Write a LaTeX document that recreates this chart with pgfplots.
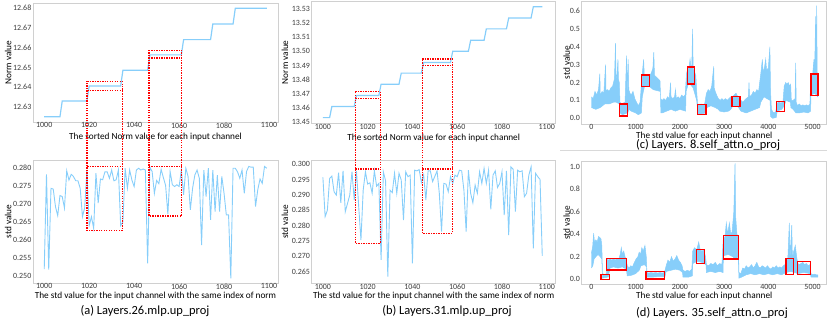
\documentclass[border=0pt]{standalone}
\usepackage{fontspec}
\setmainfont{Carlito}
\usepackage{pgfplots}
\pgfplotsset{compat=1.18}
\definecolor{sky}{RGB}{135,206,250}
\definecolor{framec}{RGB}{208,208,208}
\definecolor{rd}{RGB}{255,0,0}
\definecolor{tickc}{RGB}{60,60,60}
\pgfplotsset{
 panel/.style={
  scale only axis, anchor=north west,
  axis line style={draw=framec, line width=0.8pt},
  major tick length=0pt, tick style={draw=none},
  scaled ticks=false,
  ticklabel style={font=\fontsize{8}{9}\selectfont, color=tickc},
  xticklabel style={inner sep=0.6pt},
  yticklabel style={inner sep=1.5pt},
  label style={font=\fontsize{9.3}{11}\selectfont, color=black},
  xlabel style={at={(axis description cs:0.5,0)}, anchor=center},
  ylabel style={at={(axis description cs:0,0.5)}, anchor=center},
  /pgf/number format/assume math mode=true,
  /pgf/number format/set thousands separator={},
 },
 ser/.style={color=sky, line width=0.9pt},
 step/.style={color=sky, line width=1.2pt},
 band/.style={color=sky, fill=sky, line width=0.5pt},
}
\tikzset{
 redbox/.style={color=rd, line width=1.5pt},
 reddot/.style={color=rd, line width=1.4pt, dash pattern=on 1.4pt off 1.1pt},
}
\begin{document}
\begin{tikzpicture}
% ---------------- (a) top ----------------
\begin{axis}[panel, at={(33bp,-3bp)}, width=245bp, height=119bp,
  xmin=995, xmax=1104, ymin=12.6224, ymax=12.6825,
  xtick={1000,1020,1040,1060,1080,1100},
  ytick={12.63,12.64,12.65,12.66,12.67,12.68},
  yticklabel style={/pgf/number format/.cd,fixed,fixed zerofill,precision=2},
  xlabel={The sorted Norm value for each input channel}, ylabel={Norm value},
  xlabel style={at={(axis description cs:0.5,-0.1235)}},
  ylabel style={at={(axis description cs:-0.1008,0.5)}}]
\addplot[step] coordinates {(1000,12.6251)(1007,12.6251)(1008,12.6330)(1019,12.6330)(1020,12.6406)(1034,12.6406)(1035,12.6485)(1046,12.6485)(1047,12.6563)(1061,12.6563)(1062,12.6640)(1074,12.6640)(1075,12.6719)(1084,12.6719)(1085,12.6798)(1099,12.6798)};
\coordinate (A1t) at (axis cs:1019.1,12.6430);
\coordinate (A1r) at (axis cs:1034.7,12.6430);
\coordinate (A1m) at (axis cs:1019.1,12.6384);
\coordinate (A2t) at (axis cs:1046.6,12.6586);
\coordinate (A2r) at (axis cs:1061.2,12.6586);
\coordinate (A2m) at (axis cs:1046.6,12.6547);
\end{axis}
% ---------------- (a) bottom ----------------
\begin{axis}[panel, at={(33bp,-160bp)}, width=245bp, height=123bp,
  xmin=995, xmax=1104, ymin=0.2480, ymax=0.2823,
  xtick={1000,1020,1040,1060,1080,1100},
  ytick={0.250,0.255,0.260,0.265,0.270,0.275,0.280},
  yticklabel style={/pgf/number format/.cd,fixed,fixed zerofill,precision=3},
  xlabel={The std value for the input channel with the same index of norm}, ylabel={std value},
  xlabel style={at={(axis description cs:0.5,-0.1033)}},
  ylabel style={at={(axis description cs:-0.1008,0.5)}}]
\addplot[ser] coordinates {(1000,0.2519)(1001,0.2783)(1002,0.2517)(1003,0.2744)(1004,0.2742)(1005,0.2693)(1006,0.2668)(1007,0.2724)(1008,0.2721)(1009,0.2689)(1010,0.2793)(1011,0.2767)(1012,0.2783)(1013,0.2777)(1014,0.2765)(1015,0.2765)(1016,0.2744)(1017,0.2665)(1018,0.2690)(1019,0.2795)(1020,0.2640)(1021,0.2665)(1022,0.2632)(1023,0.2786)(1024,0.2703)(1025,0.2770)(1026,0.2768)(1027,0.2790)(1028,0.2790)(1029,0.2772)(1030,0.2795)(1031,0.2765)(1032,0.2768)(1033,0.2795)(1034,0.2640)(1035,0.2650)(1036,0.2800)(1037,0.2744)(1038,0.2795)(1039,0.2767)(1040,0.2749)(1041,0.2795)(1042,0.2800)(1043,0.2795)(1044,0.2798)(1045,0.2795)(1046,0.2535)(1047,0.2803)(1048,0.2791)(1049,0.2730)(1050,0.2766)(1051,0.2757)(1052,0.2797)(1053,0.2774)(1054,0.2752)(1055,0.2672)(1056,0.2791)(1057,0.2754)(1058,0.2749)(1059,0.2754)(1060,0.2749)(1061,0.2795)(1062,0.2726)(1063,0.2800)(1064,0.2777)(1065,0.2684)(1066,0.2744)(1067,0.2781)(1068,0.2795)(1069,0.2772)(1070,0.2586)(1071,0.2795)(1072,0.2721)(1073,0.2800)(1074,0.2656)(1075,0.2795)(1076,0.2679)(1077,0.2781)(1078,0.2679)(1079,0.2777)(1080,0.2730)(1081,0.2670)(1082,0.2670)(1083,0.2493)(1084,0.2800)(1085,0.2800)(1086,0.2790)(1087,0.2772)(1088,0.2795)(1089,0.2730)(1090,0.2791)(1091,0.2805)(1092,0.2803)(1093,0.2803)(1094,0.2693)(1095,0.2740)(1096,0.2770)(1097,0.2758)(1098,0.2805)(1099,0.2800)};
\coordinate (A1u) at (axis cs:1019.1,0.2805);
\coordinate (A1b) at (axis cs:1034.7,0.2626);
\coordinate (A2u) at (axis cs:1046.6,0.2805);
\coordinate (A2b) at (axis cs:1061.2,0.2667);
\end{axis}
% ---------------- (b) top ----------------
\begin{axis}[panel, at={(311.7bp,-1.2bp)}, width=244bp, height=122.1bp,
  xmin=995, xmax=1104, ymin=13.4491, ymax=13.5355,
  xtick={1000,1020,1040,1060,1080,1100},
  ytick={13.45,13.46,13.47,13.48,13.49,13.50,13.51,13.52,13.53},
  yticklabel style={/pgf/number format/.cd,fixed,fixed zerofill,precision=2},
  xlabel={The sorted Norm value for each input channel}, ylabel={Norm value},
  xlabel style={at={(axis description cs:0.5,-0.118)}},
  ylabel style={at={(axis description cs:-0.1094,0.5)}}]
\addplot[step] coordinates {(1000,13.4531)(1003,13.4531)(1004,13.4610)(1014,13.4610)(1015,13.4688)(1025,13.4688)(1026,13.4768)(1034,13.4768)(1035,13.4846)(1044,13.4846)(1045,13.4921)(1057,13.4921)(1058,13.5001)(1065,13.5001)(1066,13.5078)(1072,13.5078)(1073,13.5159)(1082,13.5159)(1083,13.5236)(1093,13.5236)(1094,13.5316)(1098,13.5316)};
\coordinate (B1t) at (axis cs:1014.5,13.4714);
\coordinate (B1r) at (axis cs:1025.6,13.4714);
\coordinate (B1m) at (axis cs:1014.5,13.4665);
\coordinate (B2t) at (axis cs:1044.4,13.4945);
\coordinate (B2r) at (axis cs:1057.8,13.4945);
\coordinate (B2m) at (axis cs:1044.4,13.4900);
\end{axis}
% ---------------- (b) bottom ----------------
\begin{axis}[panel, at={(311.7bp,-160.7bp)}, width=244bp, height=122.6bp,
  xmin=995, xmax=1104, ymin=0.2612, ymax=0.3011,
  xtick={1000,1020,1040,1060,1080,1100},
  ytick={0.265,0.270,0.275,0.280,0.285,0.290,0.295,0.300},
  yticklabel style={/pgf/number format/.cd,fixed,fixed zerofill,precision=3},
  xlabel={The std value for the input channel with the same index of norm}, ylabel={std value},
  xlabel style={at={(axis description cs:0.5,-0.101)}},
  ylabel style={at={(axis description cs:-0.1094,0.5)}}]
\addplot[ser] coordinates {(1000,0.2957)(1001,0.2829)(1002,0.2850)(1003,0.2953)(1004,0.2961)(1005,0.2910)(1006,0.2899)(1007,0.2972)(1008,0.2874)(1009,0.2978)(1010,0.2845)(1011,0.2872)(1012,0.2899)(1013,0.2975)(1014,0.2883)(1015,0.2978)(1016,0.2861)(1017,0.2753)(1018,0.2915)(1019,0.2975)(1020,0.2935)(1021,0.2939)(1022,0.2905)(1023,0.2978)(1024,0.2928)(1025,0.2937)(1026,0.2688)(1027,0.2975)(1028,0.2946)(1029,0.2634)(1030,0.2915)(1031,0.2907)(1032,0.2970)(1033,0.2905)(1034,0.2970)(1035,0.2948)(1036,0.2818)(1037,0.2975)(1038,0.2959)(1039,0.2964)(1040,0.2677)(1041,0.2980)(1042,0.2978)(1043,0.2982)(1044,0.2940)(1045,0.2965)(1046,0.2883)(1047,0.2978)(1048,0.2978)(1049,0.2943)(1050,0.2960)(1051,0.2978)(1052,0.2905)(1053,0.2780)(1054,0.2937)(1055,0.2935)(1056,0.2910)(1057,0.2959)(1058,0.2937)(1059,0.2964)(1060,0.2959)(1061,0.2980)(1062,0.2978)(1063,0.2915)(1064,0.2780)(1065,0.2980)(1066,0.2905)(1067,0.2874)(1068,0.2932)(1069,0.2905)(1070,0.2975)(1071,0.2937)(1072,0.2986)(1073,0.2937)(1074,0.2980)(1075,0.2853)(1076,0.2964)(1077,0.2978)(1078,0.2924)(1079,0.2937)(1080,0.2975)(1081,0.2834)(1082,0.2978)(1083,0.2769)(1084,0.2991)(1085,0.2983)(1086,0.2845)(1087,0.2980)(1088,0.2975)(1089,0.2978)(1090,0.2894)(1091,0.2905)(1092,0.2964)(1093,0.2991)(1094,0.2726)(1095,0.2970)(1096,0.2959)(1097,0.2950)(1098,0.2701)};
\coordinate (B1u) at (axis cs:1014.5,0.2984);
\coordinate (B1b) at (axis cs:1025.6,0.2742);
\coordinate (B2u) at (axis cs:1044.4,0.2984);
\coordinate (B2b) at (axis cs:1057.8,0.2775);
\end{axis}
% ---------------- (c) ----------------
\begin{axis}[panel, at={(581.7bp,-1bp)}, width=245bp, height=123bp,
  xmin=-220, xmax=5320, ymin=-0.032, ymax=0.656,
  xtick={0,1000,2000,3000,4000,5000},
  ytick={0,0.1,0.2,0.3,0.4,0.5,0.6},
  yticklabel style={/pgf/number format/.cd,fixed,fixed zerofill,precision=1},
  xlabel={The std value for each input channel}, ylabel={std value},
  xlabel style={at={(axis description cs:0.5,-0.1)}},
  ylabel style={at={(axis description cs:-0.0612,0.5)}}]
\addplot[band] coordinates {(0,0.12)(40,0.11)(80,0.15)(120,0.13)(160,0.16)(190,0.25)(200,0.13)(240,0.15)(280,0.14)(320,0.30)(330,0.15)(360,0.16)(400,0.15)(440,0.17)(480,0.18)(520,0.22)(545,0.42)(555,0.22)(580,0.25)(600,0.33)(610,0.22)(630,0.20)(645,0.09)(680,0.08)(720,0.085)(760,0.09)(795,0.35)(805,0.12)(830,0.33)(845,0.16)(870,0.14)(900,0.13)(940,0.15)(980,0.11)(1020,0.09)(1060,0.07)(1100,0.09)(1150,0.25)(1180,0.33)(1195,0.24)(1230,0.24)(1270,0.235)(1310,0.24)(1350,0.25)(1390,0.28)(1410,0.37)(1425,0.24)(1470,0.23)(1510,0.22)(1550,0.21)(1565,0.11)(1600,0.10)(1640,0.11)(1680,0.10)(1720,0.12)(1760,0.11)(1790,0.20)(1800,0.12)(1840,0.11)(1880,0.12)(1900,0.16)(1920,0.11)(1960,0.12)(2000,0.11)(2040,0.13)(2080,0.12)(2120,0.13)(2150,0.25)(2180,0.28)(2200,0.27)(2230,0.33)(2250,0.28)(2270,0.30)(2288,0.50)(2300,0.28)(2330,0.26)(2360,0.24)(2380,0.15)(2400,0.08)(2440,0.075)(2480,0.08)(2520,0.075)(2560,0.08)(2600,0.14)(2640,0.16)(2680,0.15)(2720,0.18)(2765,0.29)(2775,0.17)(2800,0.15)(2830,0.13)(2870,0.11)(2910,0.10)(2950,0.11)(2990,0.10)(3030,0.11)(3070,0.10)(3110,0.11)(3150,0.12)(3190,0.12)(3230,0.13)(3270,0.14)(3310,0.12)(3350,0.11)(3380,0.10)(3420,0.09)(3460,0.10)(3500,0.11)(3550,0.12)(3563,0.20)(3575,0.12)(3620,0.13)(3660,0.15)(3700,0.14)(3740,0.16)(3780,0.15)(3830,0.25)(3865,0.33)(3880,0.26)(3910,0.28)(3940,0.33)(3960,0.27)(4000,0.28)(4035,0.40)(4050,0.15)(4070,0.05)(4100,0.035)(4140,0.03)(4170,0.04)(4200,0.085)(4240,0.09)(4280,0.085)(4330,0.09)(4360,0.18)(4392,0.20)(4420,0.19)(4450,0.20)(4480,0.18)(4505,0.19)(4520,0.10)(4560,0.10)(4605,0.11)(4618,0.31)(4630,0.09)(4660,0.07)(4700,0.08)(4740,0.07)(4780,0.075)(4820,0.07)(4860,0.075)(4900,0.07)(4940,0.08)(4960,0.23)(5000,0.24)(5033,0.33)(5045,0.24)(5070,0.57)(5080,0.28)(5093,0.63)(5105,0.26)(5119,0.22)
(5119,0.12)(5050,0.14)(4965,0.13)(4955,0.04)(4900,0.03)(4800,0.035)(4700,0.03)(4625,0.03)(4560,0.05)(4510,0.06)(4500,0.09)(4400,0.10)(4360,0.07)(4300,0.05)(4200,0.04)(4180,0.005)(4100,0.0)(4050,0.01)(4040,0.10)(3900,0.12)(3830,0.09)(3800,0.06)(3700,0.05)(3600,0.04)(3500,0.03)(3380,0.04)(3300,0.07)(3200,0.07)(3150,0.05)(3100,0.04)(3000,0.035)(2900,0.04)(2870,0.05)(2800,0.06)(2700,0.07)(2610,0.06)(2590,0.03)(2500,0.025)(2410,0.025)(2380,0.10)(2300,0.17)(2200,0.20)(2140,0.15)(2130,0.04)(2000,0.05)(1900,0.04)(1800,0.05)(1700,0.04)(1600,0.03)(1570,0.03)(1560,0.15)(1400,0.16)(1300,0.18)(1200,0.18)(1150,0.12)(1130,0.03)(1060,0.02)(1000,0.03)(900,0.04)(850,0.05)(820,0.03)(700,0.02)(650,0.03)(635,0.08)(560,0.09)(500,0.09)(400,0.08)(300,0.08)(200,0.06)(100,0.05)(0,0.06)};
\draw[redbox] (axis cs:636,0.013) rectangle (axis cs:811,0.080);
\draw[redbox] (axis cs:1136,0.177) rectangle (axis cs:1318,0.242);
\draw[redbox] (axis cs:2167,0.192) rectangle (axis cs:2333,0.288);
\draw[redbox] (axis cs:2402,0.022) rectangle (axis cs:2591,0.078);
\draw[redbox] (axis cs:3182,0.065) rectangle (axis cs:3356,0.121);
\draw[redbox] (axis cs:4180,0.037) rectangle (axis cs:4365,0.095);
\draw[redbox] (axis cs:4960,0.126) rectangle (axis cs:5125,0.247);
\end{axis}
% ---------------- (d) ----------------
\begin{axis}[panel, at={(581.7bp,-161.7bp)}, width=245bp, height=122.3bp,
  xmin=-220, xmax=5320, ymin=-0.042, ymax=1.044,
  xtick={0,1000,2000,3000,4000,5000},
  ytick={0,0.2,0.4,0.6,0.8,1.0},
  yticklabel style={/pgf/number format/.cd,fixed,fixed zerofill,precision=1},
  xlabel={The std value for each input channel}, ylabel={std value},
  xlabel style={at={(axis description cs:0.5,-0.098)}},
  ylabel style={at={(axis description cs:-0.0612,0.5)}}]
\addplot[band] coordinates {(0,0.23)(30,0.30)(50,0.41)(70,0.32)(100,0.35)(130,0.33)(160,0.38)(190,0.37)(215,0.36)(235,0.30)(250,0.05)(300,0.04)(340,0.05)(350,0.18)(380,0.17)(420,0.18)(460,0.17)(500,0.18)(540,0.17)(580,0.185)(620,0.18)(650,0.22)(676,0.28)(700,0.22)(730,0.25)(760,0.20)(790,0.17)(810,0.12)(850,0.10)(890,0.12)(930,0.11)(970,0.15)(1010,0.18)(1050,0.20)(1080,0.24)(1110,0.22)(1140,0.28)(1170,0.25)(1210,0.30)(1240,0.20)(1255,0.06)(1300,0.055)(1350,0.06)(1400,0.055)(1450,0.06)(1500,0.055)(1550,0.06)(1600,0.055)(1650,0.06)(1690,0.12)(1730,0.17)(1770,0.15)(1810,0.20)(1850,0.16)(1890,0.18)(1930,0.21)(1970,0.17)(2010,0.15)(2050,0.12)(2070,0.08)(2120,0.07)(2170,0.08)(2220,0.07)(2270,0.09)(2290,0.25)(2330,0.28)(2380,0.26)(2425,0.33)(2460,0.26)(2500,0.25)(2540,0.26)(2580,0.20)(2600,0.13)(2650,0.12)(2700,0.14)(2750,0.13)(2800,0.15)(2850,0.12)(2900,0.14)(2950,0.13)(2980,0.35)(3020,0.38)(3050,0.50)(3080,0.40)(3120,0.50)(3150,0.40)(3180,0.42)(3220,0.60)(3247,1.03)(3262,0.55)(3290,0.40)(3320,0.38)(3335,0.06)(3380,0.05)(3420,0.10)(3460,0.09)(3500,0.12)(3540,0.10)(3580,0.11)(3620,0.13)(3660,0.10)(3700,0.12)(3740,0.15)(3780,0.11)(3820,0.10)(3860,0.12)(3900,0.11)(3940,0.10)(3980,0.12)(4020,0.10)(4060,0.09)(4100,0.11)(4140,0.10)(4180,0.12)(4220,0.10)(4260,0.11)(4300,0.10)(4340,0.12)(4380,0.13)(4410,0.18)(4440,0.17)(4475,0.50)(4490,0.18)(4530,0.48)(4545,0.17)(4575,0.25)(4610,0.30)(4640,0.20)(4665,0.14)(4700,0.13)(4740,0.14)(4780,0.15)(4820,0.13)(4860,0.14)(4900,0.12)(4940,0.13)(4965,0.05)(5000,0.04)(5040,0.045)(5080,0.04)(5119,0.04)
(5119,0.02)(4965,0.02)(4950,0.05)(4800,0.06)(4665,0.05)(4600,0.06)(4500,0.07)(4400,0.06)(4300,0.04)(4200,0.05)(4100,0.04)(4000,0.05)(3900,0.04)(3800,0.05)(3700,0.04)(3600,0.05)(3500,0.04)(3400,0.02)(3335,0.01)(3320,0.20)(3250,0.18)(3200,0.20)(3100,0.22)(2985,0.21)(2975,0.06)(2900,0.07)(2800,0.06)(2700,0.07)(2600,0.06)(2590,0.13)(2500,0.15)(2400,0.16)(2290,0.14)(2280,0.03)(2200,0.02)(2070,0.02)(2060,0.06)(2000,0.08)(1900,0.09)(1800,0.08)(1690,0.07)(1660,0.02)(1550,0.025)(1400,0.02)(1255,0.02)(1245,0.11)(1200,0.13)(1120,0.12)(1080,0.08)(1000,0.05)(900,0.035)(810,0.03)(790,0.09)(700,0.11)(600,0.10)(500,0.11)(420,0.10)(380,0.02)(300,0.015)(250,0.01)(235,0.18)(200,0.20)(150,0.22)(100,0.20)(60,0.18)(30,0.12)(0,0.10)};
\draw[redbox] (axis cs:217,0.0) rectangle (axis cs:405,0.044);
\draw[redbox] (axis cs:344,0.083) rectangle (axis cs:796,0.186);
\draw[redbox] (axis cs:1235,0.003) rectangle (axis cs:1655,0.067);
\draw[redbox] (axis cs:2379,0.142) rectangle (axis cs:2553,0.266);
\draw[redbox] (axis cs:2983,0.180) rectangle (axis cs:3322,0.387);
\draw[redbox] (axis cs:4401,0.044) rectangle (axis cs:4573,0.183);
\draw[redbox] (axis cs:4663,0.044) rectangle (axis cs:4950,0.156);
\end{axis}
% ---------- dotted red boxes spanning top and bottom panels ----------
\draw[reddot] (A1t) -- (A1r) -- (A1b) -- (A1t |- A1b) -- cycle;
\draw[reddot] (A1m) -- (A1m -| A1r);
\draw[reddot] (A1u) -- (A1u -| A1r);
\draw[reddot] (A2t) -- (A2r) -- (A2b) -- (A2t |- A2b) -- cycle;
\draw[reddot] (A2m) -- (A2m -| A2r);
\draw[reddot] (A2u) -- (A2u -| A2r);
\draw[reddot] (B1t) -- (B1r) -- (B1b) -- (B1t |- B1b) -- cycle;
\draw[reddot] (B1m) -- (B1m -| B1r);
\draw[reddot] (B1u) -- (B1u -| B1r);
\draw[reddot] (B2t) -- (B2r) -- (B2b) -- (B2t |- B2b) -- cycle;
\draw[reddot] (B2m) -- (B2m -| B2r);
\draw[reddot] (B2u) -- (B2u -| B2r);
% ---------- captions ----------
\draw[color=black!15, line width=0.8pt] (560bp,-150.5bp) -- (827bp,-150.5bp);
\node[font=\fontsize{12.5}{14}\selectfont, color=black] at (145bp,-311bp) {(a) Layers.26.mlp.up\_proj};
\node[font=\fontsize{12.5}{14}\selectfont, color=black] at (447bp,-311bp) {(b) Layers.31.mlp.up\_proj};
\node[font=\fontsize{12.5}{14}\selectfont, color=black] at (708bp,-145.5bp) {(c) Layers. 8.self\_attn.o\_proj};
\node[font=\fontsize{12.5}{14}\selectfont, color=black] at (712bp,-313bp) {(d) Layers. 35.self\_attn.o\_proj};
\pgfresetboundingbox
\useasboundingbox (0,0) rectangle (830bp,-318bp);
\end{tikzpicture}
\end{document}
